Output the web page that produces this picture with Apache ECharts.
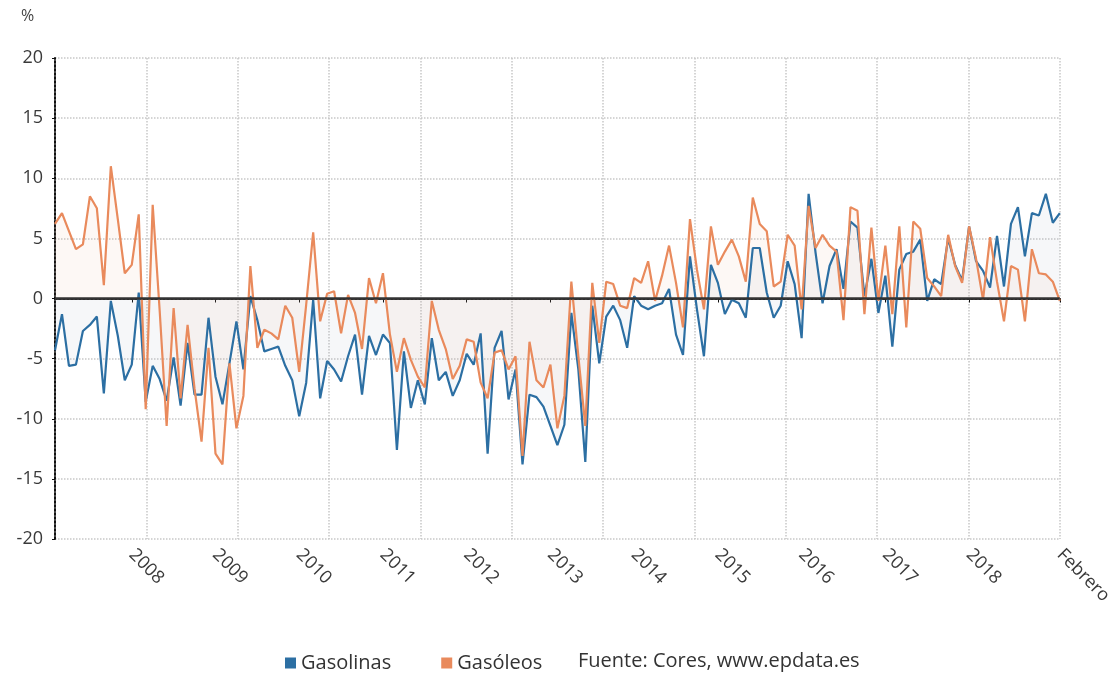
<!DOCTYPE html>
<html>
<head>
<meta charset="utf-8">
<script src="https://cdn.jsdelivr.net/npm/echarts@6/dist/echarts.min.js"></script>
<style>
  html, body { margin: 0; padding: 0; background: #fff; }
  #main { width: 1115px; height: 675px; }
</style>
</head>
<body>
<div id="main"></div>
<script>
// monthly series, Feb 2007 .. Feb 2019
const startYear = 2007
const startMonth = 2
const gasolinas = [
  -4.3, -1.3, -5.6, -5.5, -2.7, -2.2, -1.5, -7.9, -0.2, -3.1, -6.8, -5.5, 0.5, -8.6, -5.6, -6.7,
  -8.5, -4.9, -8.9, -3.7, -8.0, -8.0, -1.6, -6.5, -8.8, -5.4, -1.9, -5.9, 0.2, -1.8, -4.4, -4.2,
  -4.0, -5.6, -6.8, -9.8, -7.0, -0.1, -8.3, -5.2, -5.9, -6.9, -4.8, -3.0, -8.0, -3.1, -4.7, -3.0,
  -3.7, -12.6, -4.4, -9.1, -6.8, -8.8, -3.3, -6.8, -6.1, -8.1, -6.8, -4.6, -5.5, -2.9, -12.9, -4.1,
  -2.7, -8.4, -5.9, -13.8, -8.0, -8.2, -9.0, -10.6, -12.2, -10.5, -1.2, -5.9, -13.6, -0.6, -5.4, -1.5,
  -0.6, -1.8, -4.1, 0.2, -0.6, -0.9, -0.6, -0.4, 0.8, -3.0, -4.7, 3.5, -0.9, -4.8, 2.8, 1.3,
  -1.3, -0.1, -0.4, -1.6, 4.2, 4.2, 0.5, -1.6, -0.6, 3.1, 1.2, -3.3, 8.7, 3.8, -0.4, 2.7,
  4.1, 0.8, 6.4, 5.9, 0.2, 3.3, -1.2, 1.9, -4.0, 2.4, 3.7, 3.9, 4.9, -0.2, 1.6, 1.2,
  5.0, 2.8, 1.5, 6.0, 3.1, 2.3, 0.9, 5.2, 1.0, 6.2, 7.6, 3.5, 7.1, 6.9, 8.7, 6.3, 7.1
]
const gasoleos = [
  6.2, 7.1, 5.6, 4.1, 4.5, 8.5, 7.5, 1.1, 11.0, 6.6, 2.1, 2.8, 7.0, -9.2, 7.8, -1.0,
  -10.6, -0.8, -8.3, -2.2, -7.5, -11.9, -4.1, -12.9, -13.8, -5.4, -10.8, -8.1, 2.7, -4.1, -2.6, -2.9,
  -3.4, -0.6, -1.6, -6.1, -0.5, 5.5, -1.9, 0.4, 0.6, -2.9, 0.3, -1.2, -4.2, 1.7, -0.4, 2.1,
  -3.0, -6.1, -3.3, -5.1, -6.5, -7.4, -0.2, -2.6, -4.2, -6.7, -5.6, -3.4, -3.6, -7.0, -8.3, -4.5,
  -4.3, -5.9, -4.8, -13.1, -3.6, -6.8, -7.4, -5.5, -10.8, -8.1, 1.4, -4.8, -10.6, 1.3, -3.7, 1.4,
  1.2, -0.6, -0.8, 1.7, 1.3, 3.1, -0.2, 1.9, 4.4, 1.3, -2.4, 6.6, 2.4, -0.9, 6.0, 2.8,
  3.9, 4.9, 3.5, 1.4, 8.4, 6.2, 5.6, 1.0, 1.4, 5.3, 4.4, -0.9, 7.7, 4.2, 5.3, 4.4,
  3.9, -1.8, 7.6, 7.3, -1.3, 5.9, -0.2, 4.4, -1.3, 6.0, -2.4, 6.4, 5.8, 1.7, 1.0, 0.2,
  5.3, 2.7, 1.3, 6.0, 3.3, -0.1, 5.1, 1.4, -1.9, 2.7, 2.4, -1.9, 4.1, 2.1, 2.0, 1.4, -0.2
]
// labelled months: index -> text
const tickLabels = {
  11: '2008', 23: '2009', 35: '2010', 47: '2011', 59: '2012', 71: '2013',
  83: '2014', 95: '2015', 107: '2016', 119: '2017', 131: '2018', 144: 'Febrero'
}
const yTicks = [-20, -15, -10, -5, 0, 5, 10, 15, 20]

const categories = []
for (let k = 0; k < gasolinas.length; k++) {
  const m = startMonth - 1 + k
  categories.push((startYear + Math.floor(m / 12)) + '-' + String(m % 12 + 1).padStart(2, '0'))
}

const font = 'Open Sans'
const blue = '#2c6fa3'
const orange = '#e98a5c'
const isLabelled = (i) => tickLabels[i] !== undefined

const chart = echarts.init(document.getElementById('main'))
chart.setOption({
  animation: false,
  textStyle: { fontFamily: font },
  grid: { left: 55, right: 53, top: 58, bottom: 136 },
  legend: {
    data: [
      { name: 'Gasolinas', icon: 'rect' },
      { name: 'Gasóleos', icon: 'rect' }
    ],
    left: 280,
    top: 648,
    itemWidth: 11,
    itemHeight: 11,
    itemGap: 50,
    textStyle: { fontSize: 20, color: '#333', fontFamily: font }
  },
  graphic: [
    { type: 'text', left: 21, top: 8, style: { text: '%', fontSize: 16, fill: '#444', fontFamily: font } },
    { type: 'text', left: 578, top: 651, style: { text: 'Fuente: Cores, www.epdata.es', fontSize: 20, fill: '#333', fontFamily: font } }
  ],
  xAxis: [
    {
      type: 'category',
      data: categories,
      boundaryGap: false,
      axisLine: { lineStyle: { color: '#111', type: 'dotted', width: 2 } },
      axisTick: { interval: isLabelled, length: 4, lineStyle: { color: '#111' } },
      axisLabel: {
        interval: isLabelled,
        formatter: (v, i) => tickLabels[i] || '',
        rotate: -45,
        fontSize: 18,
        color: '#3a3a3a',
        margin: 13
      },
      splitLine: { show: false }
    },
    {
      // vertical grid lines only
      type: 'value',
      min: 0,
      max: 11,
      interval: 1,
      position: 'bottom',
      axisLine: { show: false },
      axisTick: { show: false },
      axisLabel: { show: false },
      splitLine: { show: true, lineStyle: { color: '#c8c8c8', type: 'dotted', width: 1.5 } }
    }
  ],
  yAxis: {
    type: 'value',
    min: yTicks[0],
    max: yTicks[yTicks.length - 1],
    interval: 5,
    axisLine: { show: true, lineStyle: { color: '#111', type: 'dotted', width: 2 } },
    axisTick: { show: true, length: 3, lineStyle: { color: '#111' } },
    axisLabel: { fontSize: 18, color: '#3a3a3a', margin: 12 },
    splitLine: { lineStyle: { color: '#c8c8c8', type: 'dotted', width: 1.5 } }
  },
  series: [
    {
      name: 'Gasolinas',
      type: 'line',
      xAxisIndex: 0,
      data: gasolinas,
      symbol: 'none',
      color: blue,
      lineStyle: { width: 2.2 },
      areaStyle: { color: '#7b8fb0', opacity: 0.07, origin: 0 }
    },
    {
      name: 'Gasóleos',
      type: 'line',
      xAxisIndex: 0,
      data: gasoleos,
      symbol: 'none',
      color: orange,
      lineStyle: { width: 2.2 },
      areaStyle: { color: '#e9a080', opacity: 0.08, origin: 0 },
      markLine: {
        silent: true,
        symbol: 'none',
        label: { show: false },
        lineStyle: { color: '#333', type: 'solid', width: 2.5 },
        data: [{ yAxis: 0 }]
      }
    }
  ]
})
</script>
</body>
</html>
